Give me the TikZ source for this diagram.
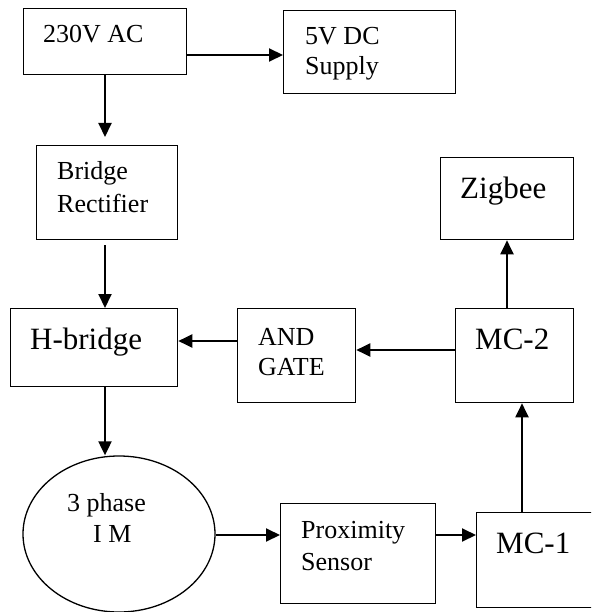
\documentclass[tikz,border=0pt]{standalone}
\usepackage{fontspec}
\setmainfont{Liberation Serif}
\usetikzlibrary{arrows.meta,shapes.geometric}
\begin{document}
\begin{tikzpicture}[x=1pt,y=-1pt,
  box/.style={draw,line width=1.3pt,inner sep=0pt,anchor=north west},
  arr/.style={line width=2pt,-{Triangle[length=14pt,width=13pt]}},
  sm/.style={inner sep=0pt,anchor=base west,font=\fontsize{26}{31}\selectfont},
  lg/.style={inner sep=0pt,anchor=base west,font=\fontsize{31}{36}\selectfont}]
\useasboundingbox (0,0) rectangle (591,612);
\clip (0,0) rectangle (591,612);
% boxes
\node[box,minimum width=163pt,minimum height=66pt] (ac) at (23,8) {};
\node[box,minimum width=172pt,minimum height=83pt] (dc) at (283,10) {};
\node[box,minimum width=141pt,minimum height=94pt] (br) at (36,145) {};
\node[box,minimum width=167pt,minimum height=78pt] (hb) at (10,308) {};
\node[box,minimum width=118pt,minimum height=94pt] (ag) at (237,308) {};
\node[box,minimum width=118pt,minimum height=94pt] (mc2) at (455,308) {};
\node[box,minimum width=133pt,minimum height=82pt] (zig) at (440,157) {};
\node[draw,line width=1.3pt,ellipse,inner sep=0pt,minimum width=192pt,minimum height=156pt] (im) at (119,534) {};
\node[box,minimum width=155pt,minimum height=100pt] (prox) at (280,503) {};
\node[box,minimum width=124pt,minimum height=95pt] (mc1) at (476,512) {};
% texts
\node[sm] (t1) at (43,43) {230V AC};
\node[sm] (t2a) at (305,45) {5V DC};
\node[sm] (t2b) at (305,75) {Supply};
\node[sm] (t3a) at (57,180) {Bridge};
\node[sm] (t3b) at (57,212) {Rectifier};
\node[lg] (t4) at (30,349) {H-bridge};
\node[sm] (t5a) at (258,345) {AND};
\node[sm] (t5b) at (258,375) {GATE};
\node[lg] (t6) at (475,349) {MC-2};
\node[lg] (t7) at (460,199) {Zigbee};
\node[sm] (t8a) at (67,511) {3 phase};
\node[sm] (t8b) at (93,542) {I M};
\node[sm] (t9a) at (301,538) {Proximity};
\node[sm] (t9b) at (301,570) {Sensor};
\node[lg] (t10) at (496,553) {MC-1};
% connectors
\draw[arr] (ac.east |- 0,55) -- (dc.west |- 0,55);
\draw[arr,shorten >=8pt] (ac.south -| 105,0) -- (br.north -| 105,0);
\draw[arr,shorten <=5pt] (br.south -| 105,0) -- (hb.north -| 105,0);
\draw[arr] (ag.west |- 0,341) -- (hb.east |- 0,341);
\draw[arr] (mc2.west |- 0,350) -- (ag.east |- 0,350);
\draw[arr] (mc2.north -| 507,0) -- (zig.south -| 507,0);
\draw[arr] (hb.south -| 105,0) -- (im.north -| 105,0);
\draw[arr] (im.east |- 0,535) -- (prox.west |- 0,535);
\draw[arr] (prox.east |- 0,535) -- (mc1.west |- 0,535);
\draw[arr] (mc1.north -| 522,0) -- (mc2.south -| 522,0);
\end{tikzpicture}
\end{document}
